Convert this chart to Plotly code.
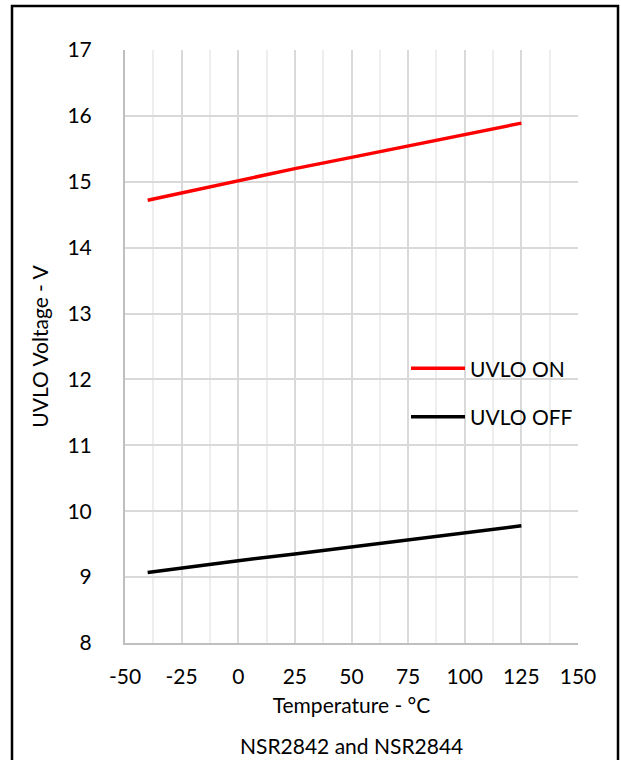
import plotly.graph_objects as go

# Data
temperature = [-40, -25, 0, 25, 50, 75, 100, 125]
uvlo_on = [14.72, 14.83, 15.02, 15.20, 15.37, 15.54, 15.71, 15.89]
uvlo_off = [9.07, 9.14, 9.25, 9.35, 9.46, 9.57, 9.67, 9.78]
series_names = ["UVLO ON", "UVLO OFF"]
series_colors = ["#ff0000", "#000000"]
x_ticks = [-50, -25, 0, 25, 50, 75, 100, 125, 150]
x_tick_labels = ["-50", "-25", "0", "25", "50", "75", "100", "125", "150"]
y_ticks = [8, 9, 10, 11, 12, 13, 14, 15, 16, 17]

FONT = "Lato"
FS = 21

# Plot-area pixel geometry
W, H = 621, 760
L, R, T, B = 125, 578, 50, 643
pw, ph = R - L, B - T

def px_x(p):
    return (p - L) / pw

def px_y(p):
    return (B - p) / ph

fig = go.Figure()
for name, vals, col in zip(series_names, [uvlo_on, uvlo_off], series_colors):
    fig.add_trace(go.Scatter(x=temperature, y=vals, mode="lines", name=name,
                             line=dict(color=col, width=3.5), showlegend=False))

fig.update_layout(
    width=W, height=H,
    margin=dict(l=L, r=W - R, t=T, b=H - B),
    paper_bgcolor="white", plot_bgcolor="white",
    font=dict(family=FONT, size=FS, color="#000000"),
    xaxis=dict(range=[-50, 150], tickvals=x_ticks, ticktext=x_tick_labels, showgrid=True,
               gridcolor="#d9d9d9", gridwidth=1.5,
               minor=dict(dtick=12.5, tick0=-50, showgrid=True, gridcolor="#eeeeee", gridwidth=1.5),
               showline=True, linecolor="#bfbfbf", linewidth=2, zeroline=False,
               ticks="", ticklabelstandoff=14,
               title=dict(text="Temperature - °C", standoff=11, font=dict(size=FS))),
    yaxis=dict(range=[8, 17], tickvals=y_ticks, showgrid=True,
               gridcolor="#d9d9d9", gridwidth=1.5,
               showline=True, linecolor="#bfbfbf", linewidth=2, zeroline=False,
               ticks="", ticklabelstandoff=27,
               title=dict(text="UVLO Voltage - V", standoff=13, font=dict(size=FS))),
)

# Manual legend (line samples + labels)
leg_x0, leg_x1 = px_x(411), px_x(465)
for name, col, py in zip(series_names, series_colors, [368.3, 416.7]):
    fig.add_shape(type="line", xref="paper", yref="paper",
                  x0=leg_x0, x1=leg_x1, y0=px_y(py), y1=px_y(py),
                  line=dict(color=col, width=3.5))
    fig.add_annotation(xref="paper", yref="paper", x=leg_x1, y=px_y(py),
                       xanchor="left", yanchor="middle", xshift=3,
                       text=name, showarrow=False, font=dict(size=FS))

# Caption
fig.add_annotation(xref="paper", yref="paper", x=0.5, y=px_y(745),
                   xanchor="center", yanchor="middle",
                   text="NSR2842 and NSR2844", showarrow=False, font=dict(size=FS))

# Outer frame
fig.add_shape(type="rect", xref="paper", yref="paper",
              x0=px_x(12), x1=px_x(618), y0=px_y(800), y1=px_y(6),
              line=dict(color="#000000", width=2.5), fillcolor="rgba(0,0,0,0)")

fig.write_html("out.html")
